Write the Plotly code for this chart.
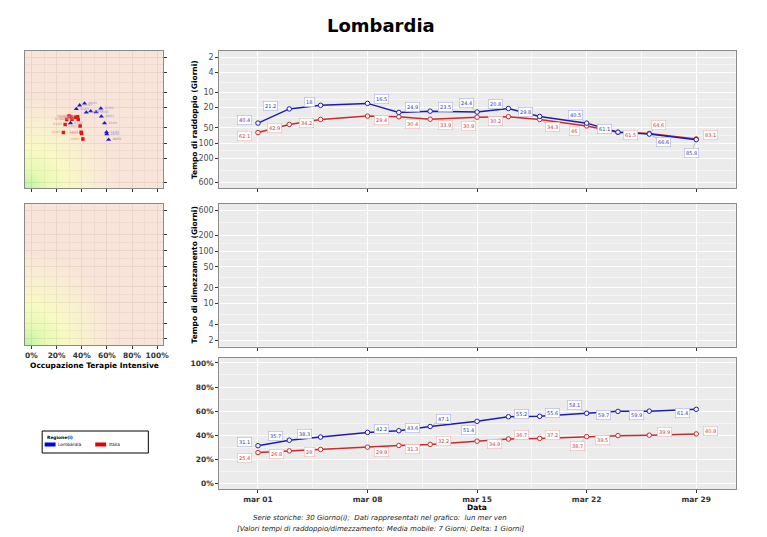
import numpy as np
import plotly.graph_objects as go

# ---------------- data ----------------
dates = ["2021-03-01", "2021-03-03", "2021-03-05", "2021-03-08", "2021-03-10",
         "2021-03-12", "2021-03-15", "2021-03-17", "2021-03-19", "2021-03-22",
         "2021-03-24", "2021-03-26", "2021-03-29"]
doubling_lombardia = [40.4, 21.2, 18, 16.5, 24.9, 23.5, 24.4, 20.8, 29.8, 40.5, 61.1, 66.6, 85.8]
doubling_italia = [62.1, 42.9, 34.2, 29.4, 30.4, 33.9, 30.9, 30.2, 34.3, 46, 61.5, 64.6, 83.1]
icu_lombardia = [31.1, 35.7, 38.3, 42.2, 43.6, 47.1, 51.4, 55.2, 55.6, 58.1, 59.7, 59.9, 61.4]
icu_italia = [25.4, 26.8, 28, 29.9, 31.3, 32.2, 34.9, 36.7, 37.2, 38.7, 39.5, 39.9, 40.9]

date_tickvals = ["2021-03-01", "2021-03-08", "2021-03-15", "2021-03-22", "2021-03-29"]
date_ticktext = ["mar 01", "mar 08", "mar 15", "mar 22", "mar 29"]
date_minor = ["2021-03-04 12:00", "2021-03-11 12:00", "2021-03-18 12:00", "2021-03-25 12:00"]
log_tickvals = [2, 4, 10, 20, 50, 100, 200, 600]
log_minor = [2.83, 6.32, 14.1, 31.6, 70.7, 141, 346]
pct_tickvals = [0, 20, 40, 60, 80, 100]
pct_ticktext = ["0%", "20%", "40%", "60%", "80%", "100%"]
pct_minor = [10, 30, 50, 70, 90]

regions = ["Lombardia", "Italia"]

# ---------------- style ----------------
W, H = 767, 537
FONT = "DejaVu Sans"
BLUE_LINE = "#1C1CB4"
RED_LINE = "#D02828"
BLUE_TXT = "#3535B0"
RED_TXT = "#C83A3A"
BLUE_BOX = "#AEB0E6"
RED_BOX = "#EEB4B4"
BG = "#EBEBEB"

# label offsets (pixels) for the repelled labels
top_lom_off = [(-13, -3), (-19, -3), (-11, -3), (14, -4), (14, -5), (15, -4), (-11, -9),
               (-13, -4), (-14, -4), (-11, -8), (-13, -3), (14, 8), (-5, 13)]
top_ita_off = [(-13, 3), (-15, 4), (-14, 4), (14, 4), (14, 7), (15, 6), (-9, 9),
               (-13, 4), (13, 8), (-12, 5), (13, 3), (9, -8), (14, -4)]
bot_lom_off = [(-13, -4), (-14, -4), (-16, -3), (14, -3), (14, -3), (13, -8), (-9, 9),
               (13, -3), (13, -3), (-12, -8), (-14, 4), (-13, 4), (-14, 4)]
bot_ita_off = [(-13, 5), (-13, 3), (-11, 3), (14, 5), (14, 4), (13, -3), (17, 3),
               (13, -4), (13, -3), (-9, 9), (-15, 4), (15, -3), (14, -3)]


def px(x):
    return x / W


def py(y):
    return 1 - y / H


main_dom = [px(221), px(741.5)]
left_dom = [px(25), px(164)]
top_dom = [py(188.3), py(51)]
mid_dom = [py(346.7), py(204)]
bot_dom = [py(489.3), py(357.7)]
lmid_dom = [py(345), py(204)]

LOGR = [0.182, 2.895]
PCTR = [-5.2, 104.4]
XPR = [-5.3, 104.4]
DATER = ["2021-02-26 12:40", "2021-03-31 12:30"]

fig = go.Figure()

# ---------- gradient backgrounds for the left panels ----------
ALPHA = 0.7


def comp(rgb):
    return "rgb(%d,%d,%d)" % tuple(
        int(max(0, min(255, (c - (1 - ALPHA) * 235) / ALPHA))) for c in rgb)


grad_stops = [(0.0, (185, 245, 168)), (0.14, (232, 252, 182)), (0.3, (255, 255, 198)),
              (0.5, (253, 238, 212)), (0.68, (251, 228, 218)), (1.0, (251, 228, 218))]
cscale = [[s, comp(c)] for s, c in grad_stops]

gx = np.linspace(XPR[0], XPR[1], 60)
glog = np.linspace(LOGR[0], LOGR[1], 60)
gy = 10 ** glog
u = (gx - XPR[0]) / (XPR[1] - XPR[0])
v_top = (LOGR[1] - glog) / (LOGR[1] - LOGR[0])   # reversed axis: bottom = high values
v_mid = (glog - LOGR[0]) / (LOGR[1] - LOGR[0])
z_top = np.clip(np.sqrt(u[None, :] ** 2 + v_top[:, None] ** 2), 0, 1)
z_mid = np.clip(np.sqrt(u[None, :] ** 2 + v_mid[:, None] ** 2), 0, 1)

for z, xa, ya in [(z_top, "x4", "y4"), (z_mid, "x5", "y5")]:
    fig.add_trace(go.Heatmap(x=gx, y=gy, z=z, zmin=0, zmax=1, colorscale=cscale,
                             showscale=False, opacity=ALPHA, zsmooth="best",
                             hoverinfo="skip", xaxis=xa, yaxis=ya))

# ---------- main panels ----------
series = [("Italia", doubling_italia, icu_italia, RED_LINE),
          ("Lombardia", doubling_lombardia, icu_lombardia, BLUE_LINE)]
for name, dbl, icu, col in series:
    for yv, xa, ya in [(dbl, "x", "y"), (icu, "x3", "y3")]:
        fig.add_trace(go.Scatter(x=dates, y=yv, mode="lines+markers", name=name,
                                 line=dict(color=col, width=1.5),
                                 marker=dict(size=4.5, color="white", line=dict(color=col, width=1)),
                                 xaxis=xa, yaxis=ya, showlegend=False))

# empty middle panel
fig.add_trace(go.Scatter(x=[dates[0]], y=[10], mode="markers", marker=dict(opacity=0),
                         hoverinfo="skip", xaxis="x2", yaxis="y2", showlegend=False))

# ---------- left scatter (occupancy vs doubling time) ----------
short_dates = [d[8:10] + "/" + d[5:7] for d in dates]
fig.add_trace(go.Scatter(x=icu_italia, y=doubling_italia, mode="markers+text",
                         text=short_dates, textposition="middle left",
                         textfont=dict(size=3, color=["#E08C8C"] * 12 + ["#F0A030"], family=FONT),
                         marker=dict(symbol="square", size=3.5, color="#E01818"),
                         xaxis="x4", yaxis="y4", showlegend=False, hoverinfo="skip"))
fig.add_trace(go.Scatter(x=icu_lombardia, y=doubling_lombardia, mode="markers+text",
                         text=short_dates, textposition="middle right",
                         textfont=dict(size=3, color=["#8C8CE0"] * 12 + ["#808080"], family=FONT),
                         marker=dict(symbol="triangle-up", size=4.5, color="#1A1AD0"),
                         xaxis="x4", yaxis="y4", showlegend=False, hoverinfo="skip"))

# ---------- labels ----------
annotations = []


def add_labels(vals, offs, xref, yref, logy, txtcol, boxcol):
    for d, v, (ox, oy) in zip(dates, vals, offs):
        yv = float(np.log10(v)) if logy else v
        seg = abs(oy) >= 8
        annotations.append(dict(
            x=d, y=yv, xref=xref, yref=yref, text=("%g" % v), showarrow=True,
            ax=ox, ay=oy, arrowhead=0, arrowwidth=0.6, standoff=3,
            arrowcolor=("#A0A0A0" if seg else "rgba(0,0,0,0)"),
            font=dict(size=5, color=txtcol, family=FONT),
            bgcolor="white", bordercolor=boxcol, borderwidth=0.6, borderpad=1.5))


add_labels(doubling_lombardia, top_lom_off, "x", "y", True, BLUE_TXT, BLUE_BOX)
add_labels(doubling_italia, top_ita_off, "x", "y", True, RED_TXT, RED_BOX)
add_labels(icu_lombardia, bot_lom_off, "x3", "y3", False, BLUE_TXT, BLUE_BOX)
add_labels(icu_italia, bot_ita_off, "x3", "y3", False, RED_TXT, RED_BOX)


def txt(text, x, y, size, xanchor="center", angle=0, color="black"):
    return dict(text=text, x=px(x), y=py(y), xref="paper", yref="paper",
                xanchor=xanchor, yanchor="middle", textangle=angle, showarrow=False,
                font=dict(size=size, color=color, family=FONT))


annotations += [
    txt("<b>Lombardia</b>", 383.5, 25, 18),
    txt("<b>Tempo di raddoppio (Giorni)</b>", 196, 119.6, 7.5, angle=-90),
    txt("<b>Tempo di dimezzamento (Giorni)</b>", 196, 275, 7.5, angle=-90),
    txt("<b>Occupazione Terapie Intensive</b>", 95, 365.5, 7.5),
    txt("<b>Data</b>", 481, 507, 7.5),
    txt("<i>Serie storiche: 30 Giorno(i);  Dati rappresentati nel grafico:  lun mer ven</i>",
        383, 518, 7, color="#222222"),
    txt("<i>[Valori tempi di raddoppio/dimezzamento: Media mobile: 7 Giorni; Delta: 1 Giorni]</i>",
        383, 528.5, 7, color="#222222"),
    # legend
    txt("<b>Regione(i)</b>", 45.5, 437.5, 4.4, xanchor="left"),
    txt(regions[0], 56.5, 444.5, 4.4, xanchor="left"),
    txt(regions[1], 108, 444.5, 4.4, xanchor="left"),
]

shapes = [
    dict(type="rect", xref="paper", yref="paper", x0=px(42.5), x1=px(149.5), y0=py(453), y1=py(431),
         line=dict(color="black", width=1), fillcolor="white"),
    dict(type="rect", xref="paper", yref="paper", x0=px(45), x1=px(56), y0=py(446.5), y1=py(442.5),
         line=dict(width=0), fillcolor="#0000E6"),
    dict(type="rect", xref="paper", yref="paper", x0=px(96), x1=px(107), y0=py(446.5), y1=py(442.5),
         line=dict(width=0), fillcolor="#E60000"),
]

tickfont_g = dict(size=8, color="#4D4D4D", family=FONT)
tickfont_b = dict(size=7.5, color="#333333", family=FONT, weight="bold")

common = dict(showline=True, mirror=True, linecolor="#8A8A8A", linewidth=1,
              ticks="outside", ticklen=3, tickcolor="#333333", tickwidth=0.7,
              zeroline=False)

main_grid = dict(showgrid=True, gridcolor="white", gridwidth=1)
left_grid = dict(showgrid=True, gridcolor="#B8B8B8", gridwidth=0.8)

date_x = dict(type="date", range=DATER, tickvals=date_tickvals, ticktext=date_ticktext,
              minor=dict(tickvals=date_minor, showgrid=True, gridcolor="#F6F6F6", gridwidth=0.5,
                         ticks=""),
              domain=main_dom, **main_grid, **common)

log_minor_main = dict(tickvals=log_minor, showgrid=True, gridcolor="#F6F6F6", gridwidth=0.5, ticks="")
log_minor_left = dict(tickvals=log_minor, showgrid=True, gridcolor="#CCCCCC", gridwidth=0.5, ticks="")

fig.update_layout(
    width=W, height=H, margin=dict(l=0, r=0, t=0, b=0),
    paper_bgcolor="white", plot_bgcolor=BG, showlegend=False,
    font=dict(family=FONT),
    xaxis=dict(anchor="y", showticklabels=False, **date_x),
    xaxis2=dict(anchor="y2", showticklabels=False, matches="x", **date_x),
    xaxis3=dict(anchor="y3", showticklabels=True, tickfont=tickfont_b, matches="x", **date_x),
    yaxis=dict(anchor="x", domain=top_dom, type="log", range=[LOGR[1], LOGR[0]],
               tickvals=log_tickvals, ticktext=[str(t) for t in log_tickvals],
               tickfont=tickfont_g, minor=log_minor_main, **main_grid, **common),
    yaxis2=dict(anchor="x2", domain=mid_dom, type="log", range=LOGR,
                tickvals=log_tickvals, ticktext=[str(t) for t in log_tickvals],
                tickfont=tickfont_g, minor=log_minor_main, **main_grid, **common),
    yaxis3=dict(anchor="x3", domain=bot_dom, range=PCTR, tickvals=pct_tickvals,
                ticktext=pct_ticktext, tickfont=tickfont_b,
                minor=dict(tickvals=pct_minor, showgrid=True, gridcolor="#F6F6F6", gridwidth=0.5, ticks=""),
                **main_grid, **common),
    xaxis4=dict(anchor="y4", domain=left_dom, range=XPR, tickvals=pct_tickvals,
                showticklabels=False,
                minor=dict(tickvals=pct_minor, showgrid=True, gridcolor="#CCCCCC", gridwidth=0.5, ticks=""),
                **left_grid, **common),
    xaxis5=dict(anchor="y5", domain=left_dom, range=XPR, tickvals=pct_tickvals,
                ticktext=pct_ticktext, tickfont=tickfont_b,
                minor=dict(tickvals=pct_minor, showgrid=True, gridcolor="#CCCCCC", gridwidth=0.5, ticks=""),
                **left_grid, **common),
    yaxis4=dict(anchor="x4", domain=top_dom, type="log", range=[LOGR[1], LOGR[0]],
                tickvals=log_tickvals, showticklabels=False, side="right",
                minor=log_minor_left, **left_grid, **common),
    yaxis5=dict(anchor="x5", domain=lmid_dom, type="log", range=LOGR,
                tickvals=log_tickvals, showticklabels=False, side="right",
                minor=log_minor_left, **left_grid, **common),
    annotations=annotations,
    shapes=shapes,
)

fig.write_html("out.html")
